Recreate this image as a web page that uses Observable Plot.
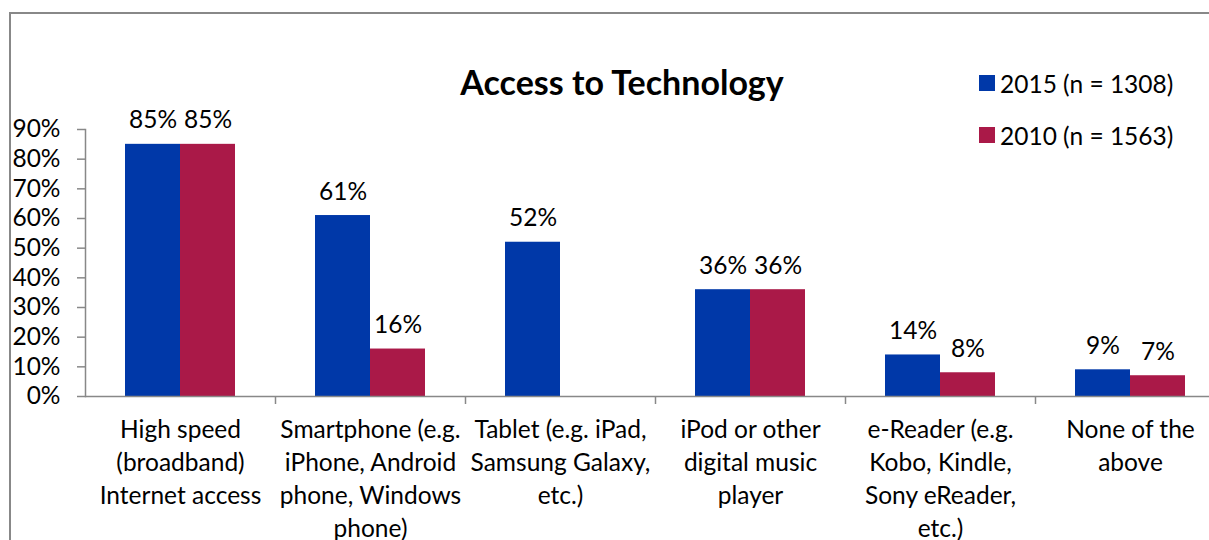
<!DOCTYPE html>
<html><head><meta charset="utf-8">
<script src="https://cdn.jsdelivr.net/npm/d3@7"></script>
<script src="https://cdn.jsdelivr.net/npm/@observablehq/plot@0.6"></script>
<style>
html,body{margin:0;padding:0;background:#fff;overflow:hidden}
#wrap{position:relative;width:1209px;height:540px;font-family:Lato,sans-serif;color:#000;overflow:hidden}
#frame{position:absolute;left:9px;top:12px;width:1300px;height:600px;border-left:2px solid #888;border-top:2px solid #888}
#chart{position:absolute;left:0;top:0}
#title{position:absolute;left:0;width:1244px;top:60px;text-align:center;font-weight:bold;font-size:34px;line-height:44px}
#legend{position:absolute;left:979px;top:68px;font-size:24.5px}
.item{display:flex;align-items:center;height:30px;margin-bottom:22px}
.sw{width:16px;height:16px;margin-right:5px}
</style></head>
<body>
<div id="wrap">
  <div id="frame"></div>
  <div id="chart"></div>
  <div id="title"></div>
  <div id="legend"></div>
</div>
<script>
const categories = ["High speed", "Smartphone", "Tablet", "iPod", "e-Reader", "None"];
const categoryLabels = [
  "High speed\n(broadband)\nInternet access",
  "Smartphone (e.g.\niPhone, Android\nphone, Windows\nphone)",
  "Tablet (e.g. iPad,\nSamsung Galaxy,\netc.)",
  "iPod or other\ndigital music\nplayer",
  "e-Reader (e.g.\nKobo, Kindle,\nSony eReader,\netc.)",
  "None of the\nabove"
];
const values2015 = [85, 61, 52, 36, 14, 9];
const values2010 = [85, 16, null, 36, 8, 7];
const seriesNames = ["2015 (n = 1308)", "2010 (n = 1563)"];
const seriesColors = ["#0038A8", "#AA1948"];
const yTicks = [0, 10, 20, 30, 40, 50, 60, 70, 80, 90];
const titleText = "Access to Technology";

const rows2015 = categories.map((c, i) => ({category: c, value: values2015[i]}));
const rows2010 = categories.map((c, i) => ({category: c, value: values2010[i]})).filter(d => d.value != null);
const labelOf = new Map(categories.map((c, i) => [c, categoryLabels[i]]));

const axisColor = "#888";
const fs = 24.5;

const plot = Plot.plot({
  width: 1209,
  height: 540,
  marginLeft: 85,
  marginRight: 0,
  marginTop: 129,
  marginBottom: 144,
  style: {fontFamily: "Lato, sans-serif", fontSize: fs + "px", color: "#000", background: "transparent", overflow: "visible"},
  x: {domain: categories, range: [85, 1225], padding: 0, axis: null},
  y: {domain: [0, 90], axis: null},
  marks: [
    Plot.barY(rows2015, {x: "category", y: "value", fill: seriesColors[0], insetLeft: 40, insetRight: 95}),
    Plot.barY(rows2010, {x: "category", y: "value", fill: seriesColors[1], insetLeft: 95, insetRight: 40}),
    Plot.text(rows2015, {x: "category", y: "value", text: d => d.value + "%", dx: -27.5, dy: -16, lineAnchor: "bottom", fontSize: fs, fill: "#000"}),
    Plot.text(rows2010, {x: "category", y: "value", text: d => d.value + "%", dx: 27.5, dy: -16, lineAnchor: "bottom", fontSize: fs, fill: "#000"}),
    Plot.axisY({ticks: yTicks, label: null, tickSize: 8, tickPadding: 17, tickFormat: d => d + "%", fontSize: fs, stroke: axisColor, fill: "#000", strokeWidth: 1.5}),
    Plot.frame({anchor: "left", stroke: axisColor, strokeWidth: 1.5}),
    Plot.ruleY([0], {stroke: axisColor, strokeWidth: 1.5}),
    Plot.ruleX(categories.slice(1), {x: d => d, dx: -95, y1: 0, y2: 0, insetBottom: -8, stroke: axisColor, strokeWidth: 1.5}),
    Plot.text(categories, {x: d => d, y: 0, text: d => labelOf.get(d), lineAnchor: "top", dy: 18, lineHeight: 1.347, fontSize: fs, fill: "#000"})
  ]
});
document.getElementById("chart").appendChild(plot);
document.getElementById("title").textContent = titleText;
const legend = document.getElementById("legend");
seriesNames.forEach((name, i) => {
  const item = document.createElement("div");
  item.className = "item";
  const sw = document.createElement("div");
  sw.className = "sw";
  sw.style.background = seriesColors[i];
  const label = document.createElement("span");
  label.textContent = name;
  item.appendChild(sw);
  item.appendChild(label);
  legend.appendChild(item);
});
</script>
</body></html>
